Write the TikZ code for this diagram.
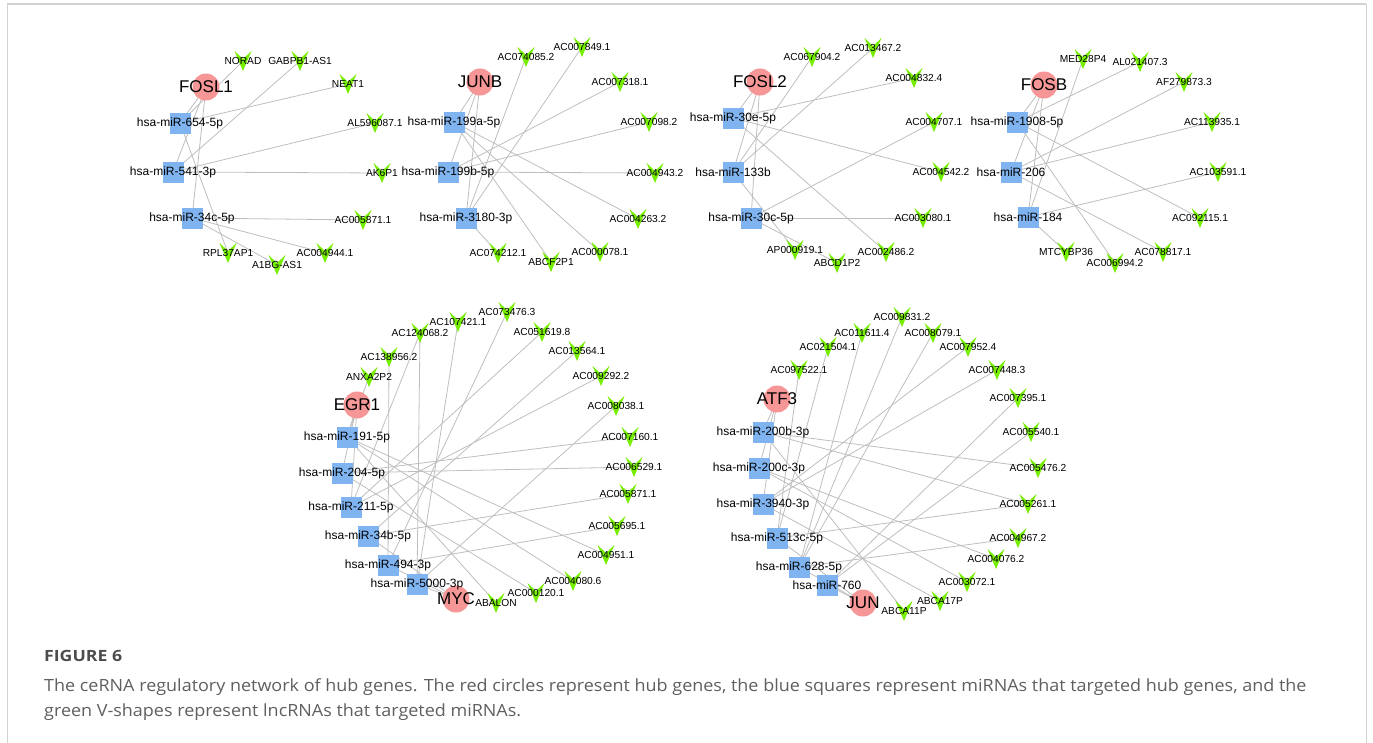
\documentclass[tikz,border=0pt]{standalone}
\usepackage{fontspec}
\setmainfont{Liberation Sans}
\newfontfamily\capfont{Open Sans}
\pgfdeclarelayer{bg}
\pgfdeclarelayer{mid}
\pgfsetlayers{bg,mid,main}
\definecolor{hubred}{RGB}{246,150,150}
\definecolor{mirblue}{RGB}{128,180,240}
\definecolor{vgreen}{RGB}{118,238,0}
\definecolor{edgegray}{RGB}{190,190,190}
\definecolor{framegray}{RGB}{210,210,210}
\definecolor{capgray}{RGB}{95,95,95}
\tikzset{
  hublab/.style={inner sep=0pt,font=\fontsize{17}{17}\selectfont},
  mirlab/.style={inner sep=0pt,font=\fontsize{12}{12}\selectfont},
  lnclab/.style={inner sep=0pt,font=\fontsize{10.2}{10.2}\selectfont},
  edge/.style={draw=edgegray,line width=0.8pt},
  caplab/.style={anchor=base west,inner sep=0pt,text=capgray,font=\capfont\fontsize{16.8}{16.8}\selectfont},
}
\newcommand\hubshape[1]{\fill[hubred] (#1.center) circle (13.5pt);}
\newcommand\mirshape[1]{\fill[mirblue] ([shift={(-10.5pt,-10.5pt)}]#1.center) rectangle ++(21pt,21pt);}
\newcommand\vshape[1]{\fill[vgreen] ([shift={(-8.5pt,10pt)}]#1.center) -- ([shift={(0pt,2pt)}]#1.center) -- ([shift={(8.5pt,10pt)}]#1.center) -- ([shift={(0pt,-10pt)}]#1.center) -- cycle;}
\begin{document}
\begin{tikzpicture}[x=1pt,y=-1pt]
\useasboundingbox (0,0) rectangle (1373,742);
% frame
\draw[framegray,line width=0.8pt] (7,745) -- (7,4) -- (1366,4) -- (1366,745);
\draw[framegray,line width=2pt] (7,4) -- (1366,4);

% ===== Network 1: FOSL1 =====
\node[hublab] (fosl1) at (206,87) {FOSL1};
\node[mirlab] (mA1) at (180,123) {hsa-miR-654-5p};
\node[mirlab] (mA2) at (173,172) {hsa-miR-541-3p};
\node[mirlab] (mA3) at (192,218) {hsa-miR-34c-5p};
\node[lnclab] (lA1) at (243,61) {NORAD};
\node[lnclab] (lA2) at (300,61) {GABPB1-AS1};
\node[lnclab] (lA3) at (348,84) {NEAT1};
\node[lnclab] (lA4) at (375,123) {AL596087.1};
\node[lnclab] (lA5) at (382,173) {AK6P1};
\node[lnclab] (lA6) at (363,220) {AC005871.1};
\node[lnclab] (lA7) at (325,253) {AC004944.1};
\node[lnclab] (lA8) at (277,265) {A1BG-AS1};
\node[lnclab] (lA9) at (228,253) {RPL37AP1};

% ===== Network 2: JUNB =====
\node[hublab] (junb) at (480,82) {JUNB};
\node[mirlab] (mB1) at (454,122) {hsa-miR-199a-5p};
\node[mirlab] (mB2) at (448,172) {hsa-miR-199b-5p};
\node[mirlab] (mB3) at (466,218) {hsa-miR-3180-3p};
\node[lnclab] (lB1) at (526,57) {AC074085.2};
\node[lnclab] (lB2) at (582,47) {AC007849.1};
\node[lnclab] (lB3) at (620,82) {AC007318.1};
\node[lnclab] (lB4) at (649,122) {AC007098.2};
\node[lnclab] (lB5) at (655,173) {AC004943.2};
\node[lnclab] (lB6) at (638,219) {AC004263.2};
\node[lnclab] (lB7) at (600,252) {AC000078.1};
\node[lnclab] (lB8) at (551,262) {ABCF2P1};
\node[lnclab] (lB9) at (498,253) {AC074212.1};

% ===== Network 3: FOSL2 =====
\node[hublab] (fosl2) at (760,82) {FOSL2};
\node[mirlab] (mC1) at (733,118) {hsa-miR-30e-5p};
\node[mirlab] (mC2) at (733,172) {hsa-miR-133b};
\node[mirlab] (mC3) at (751,218) {hsa-miR-30c-5p};
\node[lnclab] (lC1) at (812,57) {AC067904.2};
\node[lnclab] (lC2) at (873,48) {AC013467.2};
\node[lnclab] (lC3) at (914,78) {AC004832.4};
\node[lnclab] (lC4) at (934,122) {AC004707.1};
\node[lnclab] (lC5) at (941,172) {AC004542.2};
\node[lnclab] (lC6) at (923,218) {AC003080.1};
\node[lnclab] (lC7) at (886,252) {AC002486.2};
\node[lnclab] (lC8) at (837,263) {ABCD1P2};
\node[lnclab] (lC9) at (795,250) {AP000919.1};

% ===== Network 4: FOSB =====
\node[hublab] (fosb) at (1044,85) {FOSB};
\node[mirlab] (mD1) at (1017,122) {hsa-miR-1908-5p};
\node[mirlab] (mD2) at (1011,172) {hsa-miR-206};
\node[mirlab] (mD3) at (1028,217) {hsa-miR-184};
\node[lnclab] (lD1) at (1083,59) {MED28P4};
\node[lnclab] (lD2) at (1140,62) {AL021407.3};
\node[lnclab] (lD3) at (1184,82) {AF279873.3};
\node[lnclab] (lD4) at (1212,122) {AC113935.1};
\node[lnclab] (lD5) at (1218,172) {AC103591.1};
\node[lnclab] (lD6) at (1200,218) {AC092115.1};
\node[lnclab] (lD7) at (1163,252) {AC078817.1};
\node[lnclab] (lD8) at (1115,263) {AC006994.2};
\node[lnclab] (lD9) at (1066,252) {MTCYBP36};

% ===== Network 5: EGR1 / MYC =====
\node[hublab] (egr1) at (357,405) {EGR1};
\node[hublab] (myc) at (456,599) {MYC};
\node[mirlab] (mE1) at (347,437) {hsa-miR-191-5p};
\node[mirlab] (mE2) at (342,473) {hsa-miR-204-5p};
\node[mirlab] (mE3) at (351,507) {hsa-miR-211-5p};
\node[mirlab] (mE4) at (368,536) {hsa-miR-34b-5p};
\node[mirlab] (mE5) at (388,565) {hsa-miR-494-3p};
\node[mirlab] (mE6) at (417,584) {hsa-miR-5000-3p};
\node[lnclab] (lE1) at (369,377) {ANXA2P2};
\node[lnclab] (lE2) at (389,357) {AC138956.2};
\node[lnclab] (lE3) at (420,333) {AC124068.2};
\node[lnclab] (lE4) at (458,322) {AC107421.1};
\node[lnclab] (lE5) at (507,312) {AC073476.3};
\node[lnclab] (lE6) at (542,332) {AC051619.8};
\node[lnclab] (lE7) at (577,351) {AC013564.1};
\node[lnclab] (lE8) at (601,376) {AC009292.2};
\node[lnclab] (lE9) at (616,406) {AC008038.1};
\node[lnclab] (lE10) at (630,437) {AC007160.1};
\node[lnclab] (lE11) at (634,467) {AC006529.1};
\node[lnclab] (lE12) at (628,494) {AC005871.1};
\node[lnclab] (lE13) at (617,526) {AC005695.1};
\node[lnclab] (lE14) at (606,555) {AC004951.1};
\node[lnclab] (lE15) at (573,581) {AC004080.6};
\node[lnclab] (lE16) at (536,593) {AC000120.1};
\node[lnclab] (lE17) at (496,603) {ABALON};

% ===== Network 6: ATF3 / JUN =====
\node[hublab] (atf3) at (777,399) {ATF3};
\node[hublab] (jun) at (863,603) {JUN};
\node[mirlab] (mF1) at (763,432) {hsa-miR-200b-3p};
\node[mirlab] (mF2) at (759,468) {hsa-miR-200c-3p};
\node[mirlab] (mF3) at (763,504) {hsa-miR-3940-3p};
\node[mirlab] (mF4) at (777,538) {hsa-miR-513c-5p};
\node[mirlab] (mF5) at (799,567) {hsa-miR-628-5p};
\node[mirlab] (mF6) at (827,585) {hsa-miR-760};
\node[lnclab] (lF1) at (799,370) {AC097522.1};
\node[lnclab] (lF2) at (828,347) {AC021504.1};
\node[lnclab] (lF3) at (862,333) {AC011611.4};
\node[lnclab] (lF4) at (902,317) {AC009831.2};
\node[lnclab] (lF5) at (933,333) {AC008079.1};
\node[lnclab] (lF6) at (968,347) {AC007952.4};
\node[lnclab] (lF7) at (997,370) {AC007448.3};
\node[lnclab] (lF8) at (1018,398) {AC007395.1};
\node[lnclab] (lF9) at (1031,432) {AC005540.1};
\node[lnclab] (lF10) at (1038,468) {AC005476.2};
\node[lnclab] (lF11) at (1028,504) {AC005261.1};
\node[lnclab] (lF12) at (1018,538) {AC004967.2};
\node[lnclab] (lF13) at (996,559) {AC004076.2};
\node[lnclab] (lF14) at (967,582) {AC003072.1};
\node[lnclab] (lF15) at (940,601) {ABCA17P};
\node[lnclab] (lF16) at (904,611) {ABCA11P};

% ===== shapes =====
\begin{pgfonlayer}{mid}
\foreach \n in {fosl1,junb,fosl2,fosb,egr1,myc,atf3,jun} {\hubshape{\n}}
\foreach \n in {mA1,mA2,mA3,mB1,mB2,mB3,mC1,mC2,mC3,mD1,mD2,mD3,mE1,mE2,mE3,mE4,mE5,mE6,mF1,mF2,mF3,mF4,mF5,mF6} {\mirshape{\n}}
\foreach \n in {lA1,lA2,lA3,lA4,lA5,lA6,lA7,lA8,lA9,lB1,lB2,lB3,lB4,lB5,lB6,lB7,lB8,lB9,lC1,lC2,lC3,lC4,lC5,lC6,lC7,lC8,lC9,lD1,lD2,lD3,lD4,lD5,lD6,lD7,lD8,lD9} {\vshape{\n}}
\foreach \i in {1,...,17} {\vshape{lE\i}}
\foreach \i in {1,...,16} {\vshape{lF\i}}
\end{pgfonlayer}

% ===== edges =====
\begin{pgfonlayer}{bg}
\foreach \a/\b in {fosl1/mA1,fosl1/mA2,fosl1/mA3,lA1/mA1,lA2/mA2,lA3/mA1,lA4/mA2,lA5/mA2,lA6/mA3,lA7/mA3,lA8/mA3,lA9/mA1,
  junb/mB1,junb/mB2,junb/mB3,lB1/mB3,lB2/mB3,lB3/mB2,lB4/mB2,lB5/mB2,lB6/mB1,lB7/mB1,lB8/mB1,lB9/mB3,
  fosl2/mC1,fosl2/mC2,fosl2/mC3,lC1/mC2,lC2/mC2,lC3/mC1,lC4/mC3,lC5/mC1,lC6/mC3,lC7/mC1,lC8/mC3,lC9/mC2,
  fosb/mD1,fosb/mD2,fosb/mD3,lD1/mD3,lD2/mD1,lD3/mD2,lD4/mD2,lD5/mD3,lD6/mD1,lD7/mD2,lD8/mD1,lD9/mD3,
  egr1/mE1,egr1/mE2,egr1/mE3,myc/mE4,myc/mE5,myc/mE6,
  lE1/mE1,lE2/mE5,lE3/mE3,lE3/mE6,lE4/mE6,lE5/mE5,lE6/mE3,lE7/mE4,lE8/mE3,lE9/mE6,lE10/mE2,lE11/mE2,lE12/mE4,lE13/mE5,lE14/mE1,lE15/mE1,lE16/mE2,lE17/mE1,
  atf3/mF1,atf3/mF2,atf3/mF3,jun/mF4,jun/mF5,jun/mF6,
  lF1/mF4,lF2/mF4,lF3/mF5,lF4/mF5,lF5/mF5,lF6/mF3,lF7/mF3,lF8/mF6,lF9/mF6,lF10/mF1,lF11/mF1,lF11/mF4,lF12/mF5,lF13/mF2,lF14/mF2,lF15/mF3,lF16/mF1}
  {\draw[edge] (\a.center) -- (\b.center);}
\end{pgfonlayer}

% ===== caption =====
\node[anchor=base west,inner sep=0pt,text=capgray!80!black,font=\capfont\bfseries\fontsize{15.5}{15.5}\selectfont] (figlab) at (44,661) {\scalebox{1.14}[1]{FIGURE 6}};
\node[caplab] (cap1) at (44,691) {\scalebox{1.07}[1]{The ceRNA regulatory network of hub genes. The red circles represent hub genes, the blue squares represent miRNAs that targeted hub genes, and the}};
\node[caplab] (cap2) at (44,716) {\scalebox{1.07}[1]{green V-shapes represent lncRNAs that targeted miRNAs.}};
\end{tikzpicture}
\end{document}
